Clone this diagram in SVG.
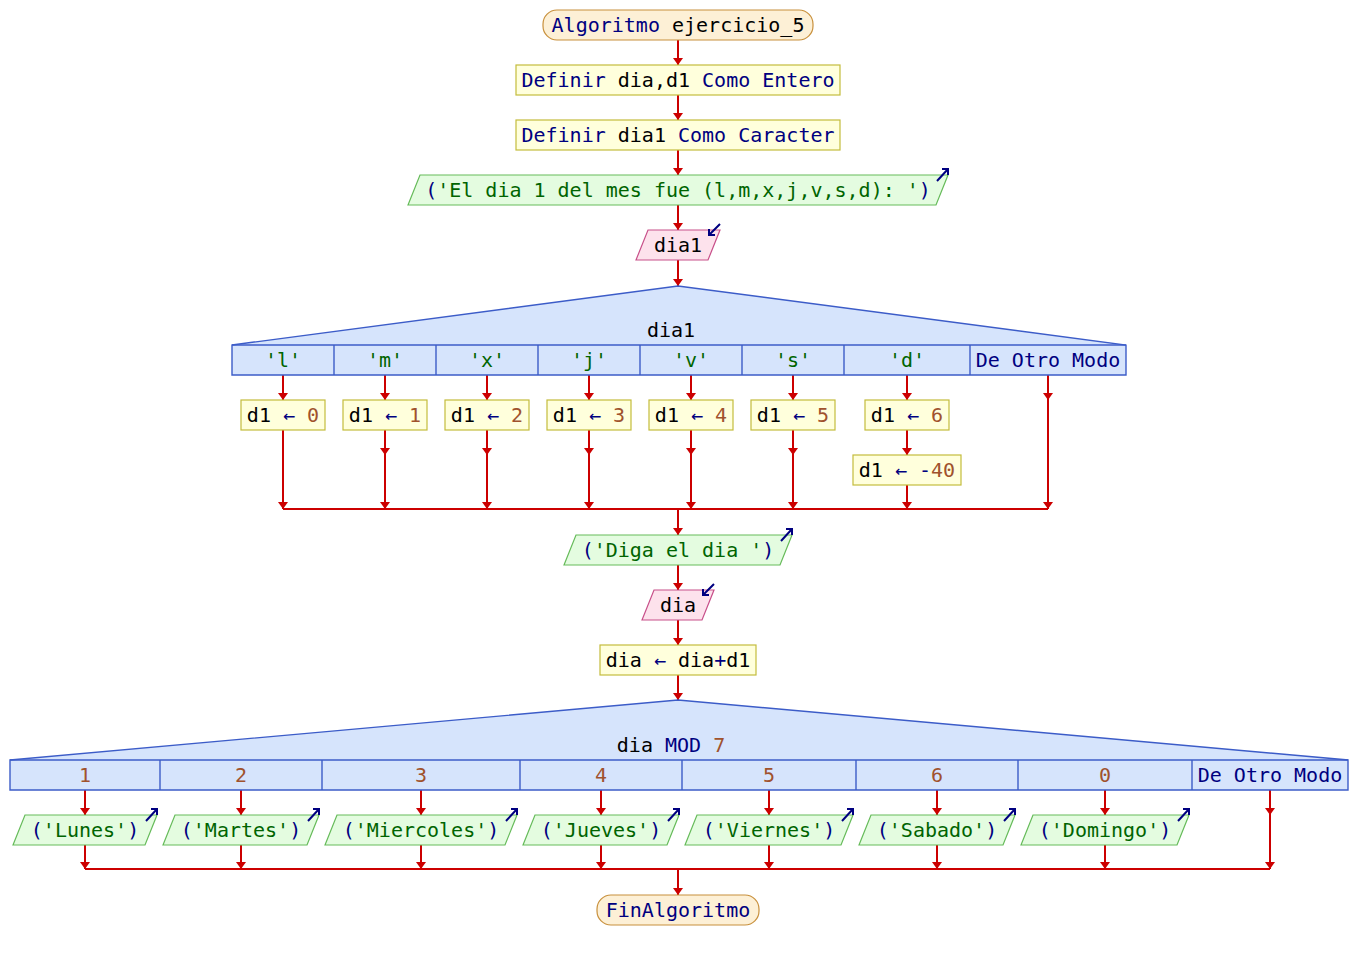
<svg xmlns="http://www.w3.org/2000/svg" width="1356" height="960" viewBox="0 0 1356 960">
<defs>
<marker id="ah" viewBox="0 -5 7 10" refX="7" refY="0" markerWidth="7" markerHeight="10" markerUnits="userSpaceOnUse" orient="auto">
<path d="M0,-5 L7,0 L0,5 z" fill="#cc0000"/>
</marker>
<style>
text{font-family:"DejaVu Sans Mono","Liberation Mono",monospace;font-size:20px;white-space:pre;fill:#000}
.kw{fill:#000080}.num{fill:#a0522d}.str{fill:#006400}.op{fill:#000080}
.term{fill:#fdf0d6;stroke:#c8903c;stroke-width:1.2}
.proc{fill:#ffffdc;stroke:#c4bc3c;stroke-width:1.2}
.out{fill:#e4fce0;stroke:#66bb5a;stroke-width:1.2}
.inp{fill:#fde2ec;stroke:#c8508a;stroke-width:1.2}
.sw{fill:#d6e4fc;stroke:#3c5cc8;stroke-width:1.4}
.sep{stroke:#3c5cc8;stroke-width:1.4}
.icon{fill:none;stroke:#000080;stroke-width:2}
#connectors line{stroke:#cc0000;stroke-width:2;fill:none}
#connectors line.a{marker-end:url(#ah)}
</style>
</defs>
<rect width="1356" height="960" fill="#ffffff"/>

<g id="connectors">
<line class="a" x1="678" y1="40" x2="678" y2="65"/>
<line class="a" x1="678" y1="95" x2="678" y2="120"/>
<line class="a" x1="678" y1="150" x2="678" y2="175"/>
<line class="a" x1="678" y1="205" x2="678" y2="230"/>
<line class="a" x1="678" y1="260" x2="678" y2="286"/>
<!-- switch 1 branches -->
<line class="a" x1="283" y1="375" x2="283" y2="400"/>
<line class="a" x1="283" y1="430" x2="283" y2="509"/>
<line class="a" x1="385" y1="375" x2="385" y2="400"/>
<line class="a" x1="385" y1="430" x2="385" y2="455"/>
<line class="a" x1="385" y1="455" x2="385" y2="509"/>
<line class="a" x1="487" y1="375" x2="487" y2="400"/>
<line class="a" x1="487" y1="430" x2="487" y2="455"/>
<line class="a" x1="487" y1="455" x2="487" y2="509"/>
<line class="a" x1="589" y1="375" x2="589" y2="400"/>
<line class="a" x1="589" y1="430" x2="589" y2="455"/>
<line class="a" x1="589" y1="455" x2="589" y2="509"/>
<line class="a" x1="691" y1="375" x2="691" y2="400"/>
<line class="a" x1="691" y1="430" x2="691" y2="455"/>
<line class="a" x1="691" y1="455" x2="691" y2="509"/>
<line class="a" x1="793" y1="375" x2="793" y2="400"/>
<line class="a" x1="793" y1="430" x2="793" y2="455"/>
<line class="a" x1="793" y1="455" x2="793" y2="509"/>
<line class="a" x1="907" y1="375" x2="907" y2="400"/>
<line class="a" x1="907" y1="430" x2="907" y2="455"/>
<line class="a" x1="907" y1="485" x2="907" y2="509"/>
<line class="a" x1="1048" y1="375" x2="1048" y2="400"/>
<line class="a" x1="1048" y1="400" x2="1048" y2="509"/>
<line x1="283" y1="509" x2="1048" y2="509"/>
<line class="a" x1="678" y1="509" x2="678" y2="535"/>
<line class="a" x1="678" y1="565" x2="678" y2="590"/>
<line class="a" x1="678" y1="620" x2="678" y2="645"/>
<line class="a" x1="678" y1="675" x2="678" y2="700"/>
<!-- switch 2 branches -->
<line class="a" x1="85" y1="790" x2="85" y2="815"/>
<line class="a" x1="85" y1="845" x2="85" y2="869"/>
<line class="a" x1="241" y1="790" x2="241" y2="815"/>
<line class="a" x1="241" y1="845" x2="241" y2="869"/>
<line class="a" x1="421" y1="790" x2="421" y2="815"/>
<line class="a" x1="421" y1="845" x2="421" y2="869"/>
<line class="a" x1="601" y1="790" x2="601" y2="815"/>
<line class="a" x1="601" y1="845" x2="601" y2="869"/>
<line class="a" x1="769" y1="790" x2="769" y2="815"/>
<line class="a" x1="769" y1="845" x2="769" y2="869"/>
<line class="a" x1="937" y1="790" x2="937" y2="815"/>
<line class="a" x1="937" y1="845" x2="937" y2="869"/>
<line class="a" x1="1105" y1="790" x2="1105" y2="815"/>
<line class="a" x1="1105" y1="845" x2="1105" y2="869"/>
<line class="a" x1="1270" y1="790" x2="1270" y2="815"/>
<line class="a" x1="1270" y1="815" x2="1270" y2="869"/>
<line x1="85" y1="869" x2="1270" y2="869"/>
<line class="a" x1="678" y1="869" x2="678" y2="895"/>
</g>

<g id="start">
<rect class="term" x="543" y="10" width="270" height="30" rx="14" ry="14"/>
<text x="678" y="32" text-anchor="middle"><tspan class="kw">Algoritmo</tspan> ejercicio_5</text>
</g>

<g id="def1">
<rect class="proc" x="516" y="65" width="324" height="30"/>
<text x="678" y="87" text-anchor="middle"><tspan class="kw">Definir</tspan> dia,d1 <tspan class="kw">Como Entero</tspan></text>
</g>

<g id="def2">
<rect class="proc" x="516" y="120" width="324" height="30"/>
<text x="678" y="142" text-anchor="middle"><tspan class="kw">Definir</tspan> dia1 <tspan class="kw">Como Caracter</tspan></text>
</g>

<g id="out1">
<polygon class="out" points="408,205 420,175 948,175 936,205"/>
<path class="icon" d="M937,181 L948,169 M942,169 L948,169 L948,175"/>
<text x="678" y="197" text-anchor="middle"><tspan class="kw">(</tspan><tspan class="str">'El dia 1 del mes fue (l,m,x,j,v,s,d): '</tspan><tspan class="kw">)</tspan></text>
</g>

<g id="in1">
<polygon class="inp" points="636,260 648,230 720,230 708,260"/>
<path class="icon" d="M720,224 L709,235 M709,229 L709,235 L715,235"/>
<text x="678" y="252" text-anchor="middle">dia1</text>
</g>

<g id="switch1">
<polygon class="sw" points="232,345 678,286 1126,345 1126,375 232,375"/>
<line class="sep" x1="232" y1="345" x2="1126" y2="345"/>
<line class="sep" x1="334" y1="345" x2="334" y2="375"/>
<line class="sep" x1="436" y1="345" x2="436" y2="375"/>
<line class="sep" x1="538" y1="345" x2="538" y2="375"/>
<line class="sep" x1="640" y1="345" x2="640" y2="375"/>
<line class="sep" x1="742" y1="345" x2="742" y2="375"/>
<line class="sep" x1="844" y1="345" x2="844" y2="375"/>
<line class="sep" x1="970" y1="345" x2="970" y2="375"/>
<text x="671" y="337" text-anchor="middle">dia1</text>
<text class="str" x="283" y="367" text-anchor="middle">'l'</text>
<text class="str" x="385" y="367" text-anchor="middle">'m'</text>
<text class="str" x="487" y="367" text-anchor="middle">'x'</text>
<text class="str" x="589" y="367" text-anchor="middle">'j'</text>
<text class="str" x="691" y="367" text-anchor="middle">'v'</text>
<text class="str" x="793" y="367" text-anchor="middle">'s'</text>
<text class="str" x="907" y="367" text-anchor="middle">'d'</text>
<text class="kw" x="1048" y="367" text-anchor="middle">De Otro Modo</text>
</g>

<g id="a0"><rect class="proc" x="241" y="400" width="84" height="30"/><text x="283" y="422" text-anchor="middle">d1 <tspan class="op">←</tspan> <tspan class="num">0</tspan></text></g>
<g id="a1"><rect class="proc" x="343" y="400" width="84" height="30"/><text x="385" y="422" text-anchor="middle">d1 <tspan class="op">←</tspan> <tspan class="num">1</tspan></text></g>
<g id="a2"><rect class="proc" x="445" y="400" width="84" height="30"/><text x="487" y="422" text-anchor="middle">d1 <tspan class="op">←</tspan> <tspan class="num">2</tspan></text></g>
<g id="a3"><rect class="proc" x="547" y="400" width="84" height="30"/><text x="589" y="422" text-anchor="middle">d1 <tspan class="op">←</tspan> <tspan class="num">3</tspan></text></g>
<g id="a4"><rect class="proc" x="649" y="400" width="84" height="30"/><text x="691" y="422" text-anchor="middle">d1 <tspan class="op">←</tspan> <tspan class="num">4</tspan></text></g>
<g id="a5"><rect class="proc" x="751" y="400" width="84" height="30"/><text x="793" y="422" text-anchor="middle">d1 <tspan class="op">←</tspan> <tspan class="num">5</tspan></text></g>
<g id="a6"><rect class="proc" x="865" y="400" width="84" height="30"/><text x="907" y="422" text-anchor="middle">d1 <tspan class="op">←</tspan> <tspan class="num">6</tspan></text></g>
<g id="a7"><rect class="proc" x="853" y="455" width="108" height="30"/><text x="907" y="477" text-anchor="middle">d1 <tspan class="op">←</tspan> <tspan class="op">-</tspan><tspan class="num">40</tspan></text></g>

<g id="out2">
<polygon class="out" points="564,565 576,535 792,535 780,565"/>
<path class="icon" d="M781,541 L792,529 M786,529 L792,529 L792,535"/>
<text x="678" y="557" text-anchor="middle"><tspan class="kw">(</tspan><tspan class="str">'Diga el dia '</tspan><tspan class="kw">)</tspan></text>
</g>

<g id="in2">
<polygon class="inp" points="642,620 654,590 714,590 702,620"/>
<path class="icon" d="M714,584 L703,595 M703,589 L703,595 L709,595"/>
<text x="678" y="612" text-anchor="middle">dia</text>
</g>

<g id="assign">
<rect class="proc" x="600" y="645" width="156" height="30"/>
<text x="678" y="667" text-anchor="middle">dia <tspan class="op">←</tspan> dia<tspan class="op">+</tspan>d1</text>
</g>

<g id="switch2">
<polygon class="sw" points="10,760 678,700 1348,760 1348,790 10,790"/>
<line class="sep" x1="10" y1="760" x2="1348" y2="760"/>
<line class="sep" x1="160" y1="760" x2="160" y2="790"/>
<line class="sep" x1="322" y1="760" x2="322" y2="790"/>
<line class="sep" x1="520" y1="760" x2="520" y2="790"/>
<line class="sep" x1="682" y1="760" x2="682" y2="790"/>
<line class="sep" x1="856" y1="760" x2="856" y2="790"/>
<line class="sep" x1="1018" y1="760" x2="1018" y2="790"/>
<line class="sep" x1="1192" y1="760" x2="1192" y2="790"/>
<text x="671" y="752" text-anchor="middle">dia <tspan class="kw">MOD</tspan> <tspan class="num">7</tspan></text>
<text class="num" x="85" y="782" text-anchor="middle">1</text>
<text class="num" x="241" y="782" text-anchor="middle">2</text>
<text class="num" x="421" y="782" text-anchor="middle">3</text>
<text class="num" x="601" y="782" text-anchor="middle">4</text>
<text class="num" x="769" y="782" text-anchor="middle">5</text>
<text class="num" x="937" y="782" text-anchor="middle">6</text>
<text class="num" x="1105" y="782" text-anchor="middle">0</text>
<text class="kw" x="1270" y="782" text-anchor="middle">De Otro Modo</text>
</g>

<g id="o1">
<polygon class="out" points="13,845 25,815 157,815 145,845"/>
<path class="icon" d="M146,821 L157,809 M151,809 L157,809 L157,815"/>
<text x="85" y="837" text-anchor="middle"><tspan class="kw">(</tspan><tspan class="str">'Lunes'</tspan><tspan class="kw">)</tspan></text>
</g>
<g id="o2">
<polygon class="out" points="163,845 175,815 319,815 307,845"/>
<path class="icon" d="M308,821 L319,809 M313,809 L319,809 L319,815"/>
<text x="241" y="837" text-anchor="middle"><tspan class="kw">(</tspan><tspan class="str">'Martes'</tspan><tspan class="kw">)</tspan></text>
</g>
<g id="o3">
<polygon class="out" points="325,845 337,815 517,815 505,845"/>
<path class="icon" d="M506,821 L517,809 M511,809 L517,809 L517,815"/>
<text x="421" y="837" text-anchor="middle"><tspan class="kw">(</tspan><tspan class="str">'Miercoles'</tspan><tspan class="kw">)</tspan></text>
</g>
<g id="o4">
<polygon class="out" points="523,845 535,815 679,815 667,845"/>
<path class="icon" d="M668,821 L679,809 M673,809 L679,809 L679,815"/>
<text x="601" y="837" text-anchor="middle"><tspan class="kw">(</tspan><tspan class="str">'Jueves'</tspan><tspan class="kw">)</tspan></text>
</g>
<g id="o5">
<polygon class="out" points="685,845 697,815 853,815 841,845"/>
<path class="icon" d="M842,821 L853,809 M847,809 L853,809 L853,815"/>
<text x="769" y="837" text-anchor="middle"><tspan class="kw">(</tspan><tspan class="str">'Viernes'</tspan><tspan class="kw">)</tspan></text>
</g>
<g id="o6">
<polygon class="out" points="859,845 871,815 1015,815 1003,845"/>
<path class="icon" d="M1004,821 L1015,809 M1009,809 L1015,809 L1015,815"/>
<text x="937" y="837" text-anchor="middle"><tspan class="kw">(</tspan><tspan class="str">'Sabado'</tspan><tspan class="kw">)</tspan></text>
</g>
<g id="o7">
<polygon class="out" points="1021,845 1033,815 1189,815 1177,845"/>
<path class="icon" d="M1178,821 L1189,809 M1183,809 L1189,809 L1189,815"/>
<text x="1105" y="837" text-anchor="middle"><tspan class="kw">(</tspan><tspan class="str">'Domingo'</tspan><tspan class="kw">)</tspan></text>
</g>

<g id="end">
<rect class="term" x="597" y="895" width="162" height="30" rx="14" ry="14"/>
<text class="kw" x="678" y="917" text-anchor="middle">FinAlgoritmo</text>
</g>
</svg>
